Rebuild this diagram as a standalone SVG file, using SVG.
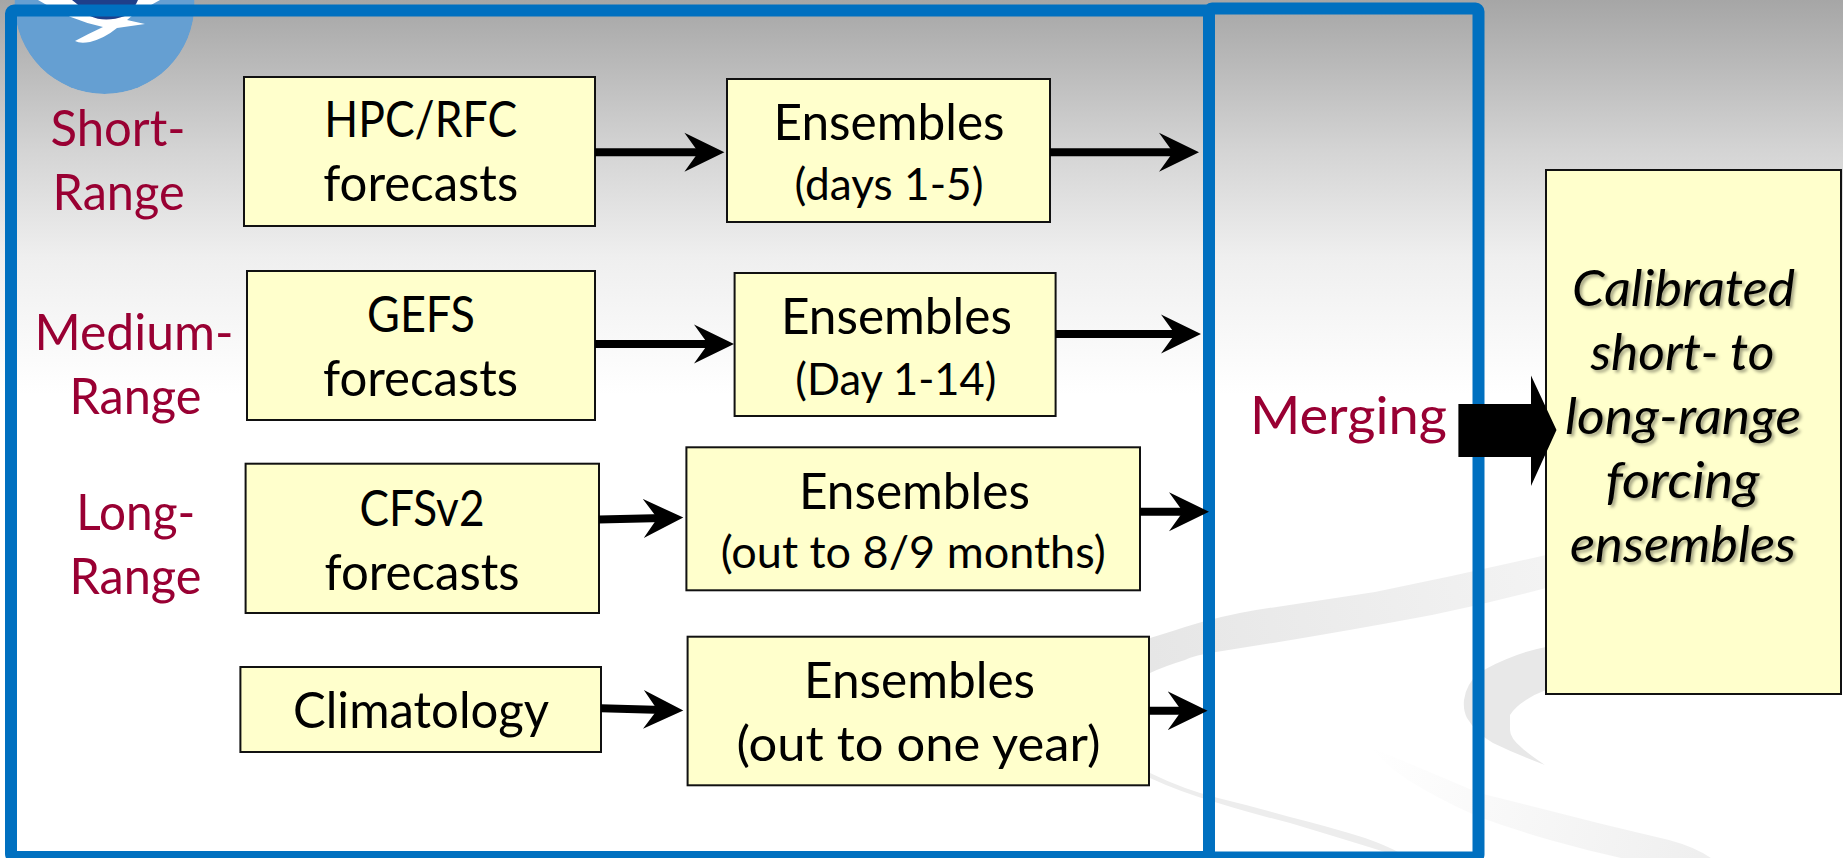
<svg xmlns="http://www.w3.org/2000/svg" width="1843" height="858" viewBox="0 0 1843 858">
<style>
.box{fill:#ffffcc;stroke:#111;stroke-width:2}
.t{font-family:"Lato","Carlito","Liberation Sans",sans-serif;text-anchor:middle;fill:#000;font-size:50px}
.s{font-size:45px}
.e{font-size:48px}
.l{fill:#990033;font-size:50px}
.m{fill:#990033;font-size:52px}
.i{font-style:italic;font-size:50px;filter:url(#sh)}
.c{stroke:#000;stroke-width:8;fill:none;marker-end:url(#ah)}
.f{fill:none;stroke:#0070c0;stroke-width:12}
</style>
<defs>
<linearGradient id="bg" gradientUnits="userSpaceOnUse" x1="0" y1="0" x2="0" y2="858">
<stop offset="0" stop-color="#a6a6a6"/><stop offset="0.07" stop-color="#b8b8b8"/><stop offset="0.175" stop-color="#d4d4d4"/><stop offset="0.3" stop-color="#efefef"/><stop offset="0.46" stop-color="#fff"/>
</linearGradient>
<linearGradient id="gc" gradientUnits="userSpaceOnUse" x1="1370" y1="750" x2="1700" y2="850">
<stop offset="0" stop-color="#fff"/><stop offset="1" stop-color="#efefef"/>
</linearGradient>
<linearGradient id="ga" gradientUnits="userSpaceOnUse" x1="1150" y1="650" x2="1546" y2="570">
<stop offset="0" stop-color="#e6e6e6"/><stop offset="1" stop-color="#f3f3f3"/>
</linearGradient>
<marker id="ah" markerUnits="userSpaceOnUse" markerWidth="42" markerHeight="42" viewBox="0 -21 42 42" refX="20" refY="0" orient="auto">
<path d="M0,-19.5 L40,0 L0,19.5 L14,0 Z" fill="#000"/>
</marker>
<filter id="sh" x="-10%" y="-20%" width="120%" height="150%"><feDropShadow dx="2.5" dy="2.5" stdDeviation="1.6" flood-color="#000" flood-opacity="0.35"/></filter>
<clipPath id="lc"><circle cx="104.5" cy="4" r="90"/></clipPath>
</defs>
<rect width="1843" height="858" fill="url(#bg)"/>
<g id="swooshes">
<path d="M1150,638 Q1170,632 1185,627 Q1220,616 1256,610 L1375,592 Q1460,575 1546,555 L1546,588 Q1490,603 1432,615 Q1320,636 1216,652 Q1195,655 1185,660 Q1165,666 1150,673 Z" fill="url(#ga)"/>
<path d="M1546,647 Q1530,650 1517,655 Q1495,663 1479,673 Q1466,684 1464,700 Q1463,710 1467,718 Q1476,733 1493,743 Q1518,755 1545,765 Q1530,755 1522,748 Q1510,738 1510,730 L1510,715 Q1515,707 1526,700 Q1535,694 1546,690 Z" fill="#e8e8e8"/>
<path d="M1370,747 Q1425,770 1479,793 Q1540,808 1598,823 Q1635,832 1669,840 Q1695,847 1711,858 L1621,858 Q1585,850 1550,840 Q1515,830 1479,817 Q1440,800 1408,780 Q1385,765 1370,747 Z" fill="url(#gc)"/>
<path d="M1150,773 Q1185,790 1218,798 Q1255,807 1290,817 Q1330,827 1365,838 Q1385,845 1398,852 L1385,852 Q1340,838 1290,823 Q1250,813 1218,803 Q1180,792 1150,778 Z" fill="#ededed"/>
</g>
<g id="logo" clip-path="url(#lc)">
<circle cx="104.5" cy="4" r="90" fill="#659fd2"/>
<path d="M38,0 Q70,20 103,27 Q90,33 75,41 Q80,44 90,42 Q105,38 117,28 L145,24 L127,20 L133,15 L160,0 Z" fill="#fff"/>
<path d="M72,0 Q80,6 90,16 Q105,23 125,16 Q135,8 138,0 Z" fill="#1f3f8a"/>
</g>
<g id="merging-frame"><rect class="f" x="1209" y="8.5" width="269.5" height="849" rx="3"/></g>
<g id="ingest-frame"><rect class="f" x="11" y="10.5" width="1198" height="846.5" rx="3"/></g>
<g id="label-short"><text class="t l" x="118" y="146" textLength="135" lengthAdjust="spacingAndGlyphs">Short-</text><text class="t l" x="118.6" y="210" textLength="132" lengthAdjust="spacingAndGlyphs">Range</text></g>
<g id="label-medium"><text class="t l" x="134" y="349.5" textLength="199" lengthAdjust="spacingAndGlyphs">Medium-</text><text class="t l" x="135.4" y="413.5" textLength="132" lengthAdjust="spacingAndGlyphs">Range</text></g>
<g id="label-long"><text class="t l" x="135.8" y="529.5" textLength="119" lengthAdjust="spacingAndGlyphs">Long-</text><text class="t l" x="135.4" y="593.5" textLength="132" lengthAdjust="spacingAndGlyphs">Range</text></g>
<g id="hpc-rfc"><rect class="box" x="244" y="77" width="351" height="149"/><text class="t" x="420.7" y="137" textLength="193" lengthAdjust="spacingAndGlyphs">HPC/RFC</text><text class="t" x="420.7" y="201" textLength="195" lengthAdjust="spacingAndGlyphs">forecasts</text></g>
<g id="gefs"><rect class="box" x="247" y="271" width="348" height="149"/><text class="t" x="421" y="331.5" textLength="108" lengthAdjust="spacingAndGlyphs">GEFS</text><text class="t" x="420.5" y="395.5" textLength="195" lengthAdjust="spacingAndGlyphs">forecasts</text></g>
<g id="cfsv2"><rect class="box" x="245.6" y="463.7" width="353.4" height="149.3"/><text class="t" x="422" y="525.5" textLength="125" lengthAdjust="spacingAndGlyphs">CFSv2</text><text class="t" x="422" y="589.5" textLength="195" lengthAdjust="spacingAndGlyphs">forecasts</text></g>
<g id="climatology"><rect class="box" x="240.4" y="667" width="360.6" height="85"/><text class="t" x="421" y="728" textLength="256" lengthAdjust="spacingAndGlyphs">Climatology</text></g>
<g id="ensembles-1"><rect class="box" x="727" y="79" width="323" height="143"/><text class="t" x="889" y="140" textLength="231" lengthAdjust="spacingAndGlyphs">Ensembles</text><text class="t s" x="889" y="200" textLength="189" lengthAdjust="spacingAndGlyphs">(days 1-5)</text></g>
<g id="ensembles-2"><rect class="box" x="734.6" y="273" width="321" height="143"/><text class="t" x="896.4" y="333.5" textLength="231" lengthAdjust="spacingAndGlyphs">Ensembles</text><text class="t s" x="895.8" y="394.5" textLength="201" lengthAdjust="spacingAndGlyphs">(Day 1-14)</text></g>
<g id="ensembles-3"><rect class="box" x="686.4" y="447.3" width="453.6" height="143"/><text class="t" x="914.4" y="508.5" textLength="231" lengthAdjust="spacingAndGlyphs">Ensembles</text><text class="t s" x="913.2" y="567.5" textLength="385" lengthAdjust="spacingAndGlyphs">(out to 8/9 months)</text></g>
<g id="ensembles-4"><rect class="box" x="687.6" y="636.7" width="461.4" height="148.6"/><text class="t" x="919.5" y="697.5" textLength="231" lengthAdjust="spacingAndGlyphs">Ensembles</text><text class="t e" x="918.5" y="761" textLength="364" lengthAdjust="spacingAndGlyphs">(out to one year)</text></g>
<g id="merging-label"><text class="t m" x="1348.4" y="433.5" textLength="197" lengthAdjust="spacingAndGlyphs">Merging</text></g>
<g id="output"><rect class="box" x="1546" y="170" width="295" height="524"/>
<text class="t i" x="1683.6" y="305.5" textLength="223" lengthAdjust="spacingAndGlyphs">Calibrated</text>
<text class="t i" x="1682.5" y="369.5" textLength="184" lengthAdjust="spacingAndGlyphs">short- to</text>
<text class="t i" x="1683" y="433.5" textLength="236" lengthAdjust="spacingAndGlyphs">long-range</text>
<text class="t i" x="1682.5" y="498" textLength="154" lengthAdjust="spacingAndGlyphs">forcing</text>
<text class="t i" x="1683" y="562" textLength="226" lengthAdjust="spacingAndGlyphs">ensembles</text></g>
<g id="connectors">
<line class="c" x1="595" y1="152.3" x2="704.4" y2="152.3"/>
<line class="c" x1="1050" y1="152.3" x2="1179" y2="152.3"/>
<line class="c" x1="595" y1="344" x2="714" y2="344"/>
<line class="c" x1="1055.6" y1="334" x2="1181" y2="334"/>
<line class="c" x1="599" y1="519.5" x2="663.3" y2="518"/>
<line class="c" x1="1140" y1="511.7" x2="1189" y2="511.7"/>
<line class="c" x1="601" y1="708.3" x2="663.3" y2="710"/>
<line class="c" x1="1149" y1="710.7" x2="1187.6" y2="710.7"/>
<path d="M1458.4,404 H1531 V375.5 L1556.5,430 L1531,486 V457 H1458.4 Z" fill="#000"/>
</g>
</svg>
